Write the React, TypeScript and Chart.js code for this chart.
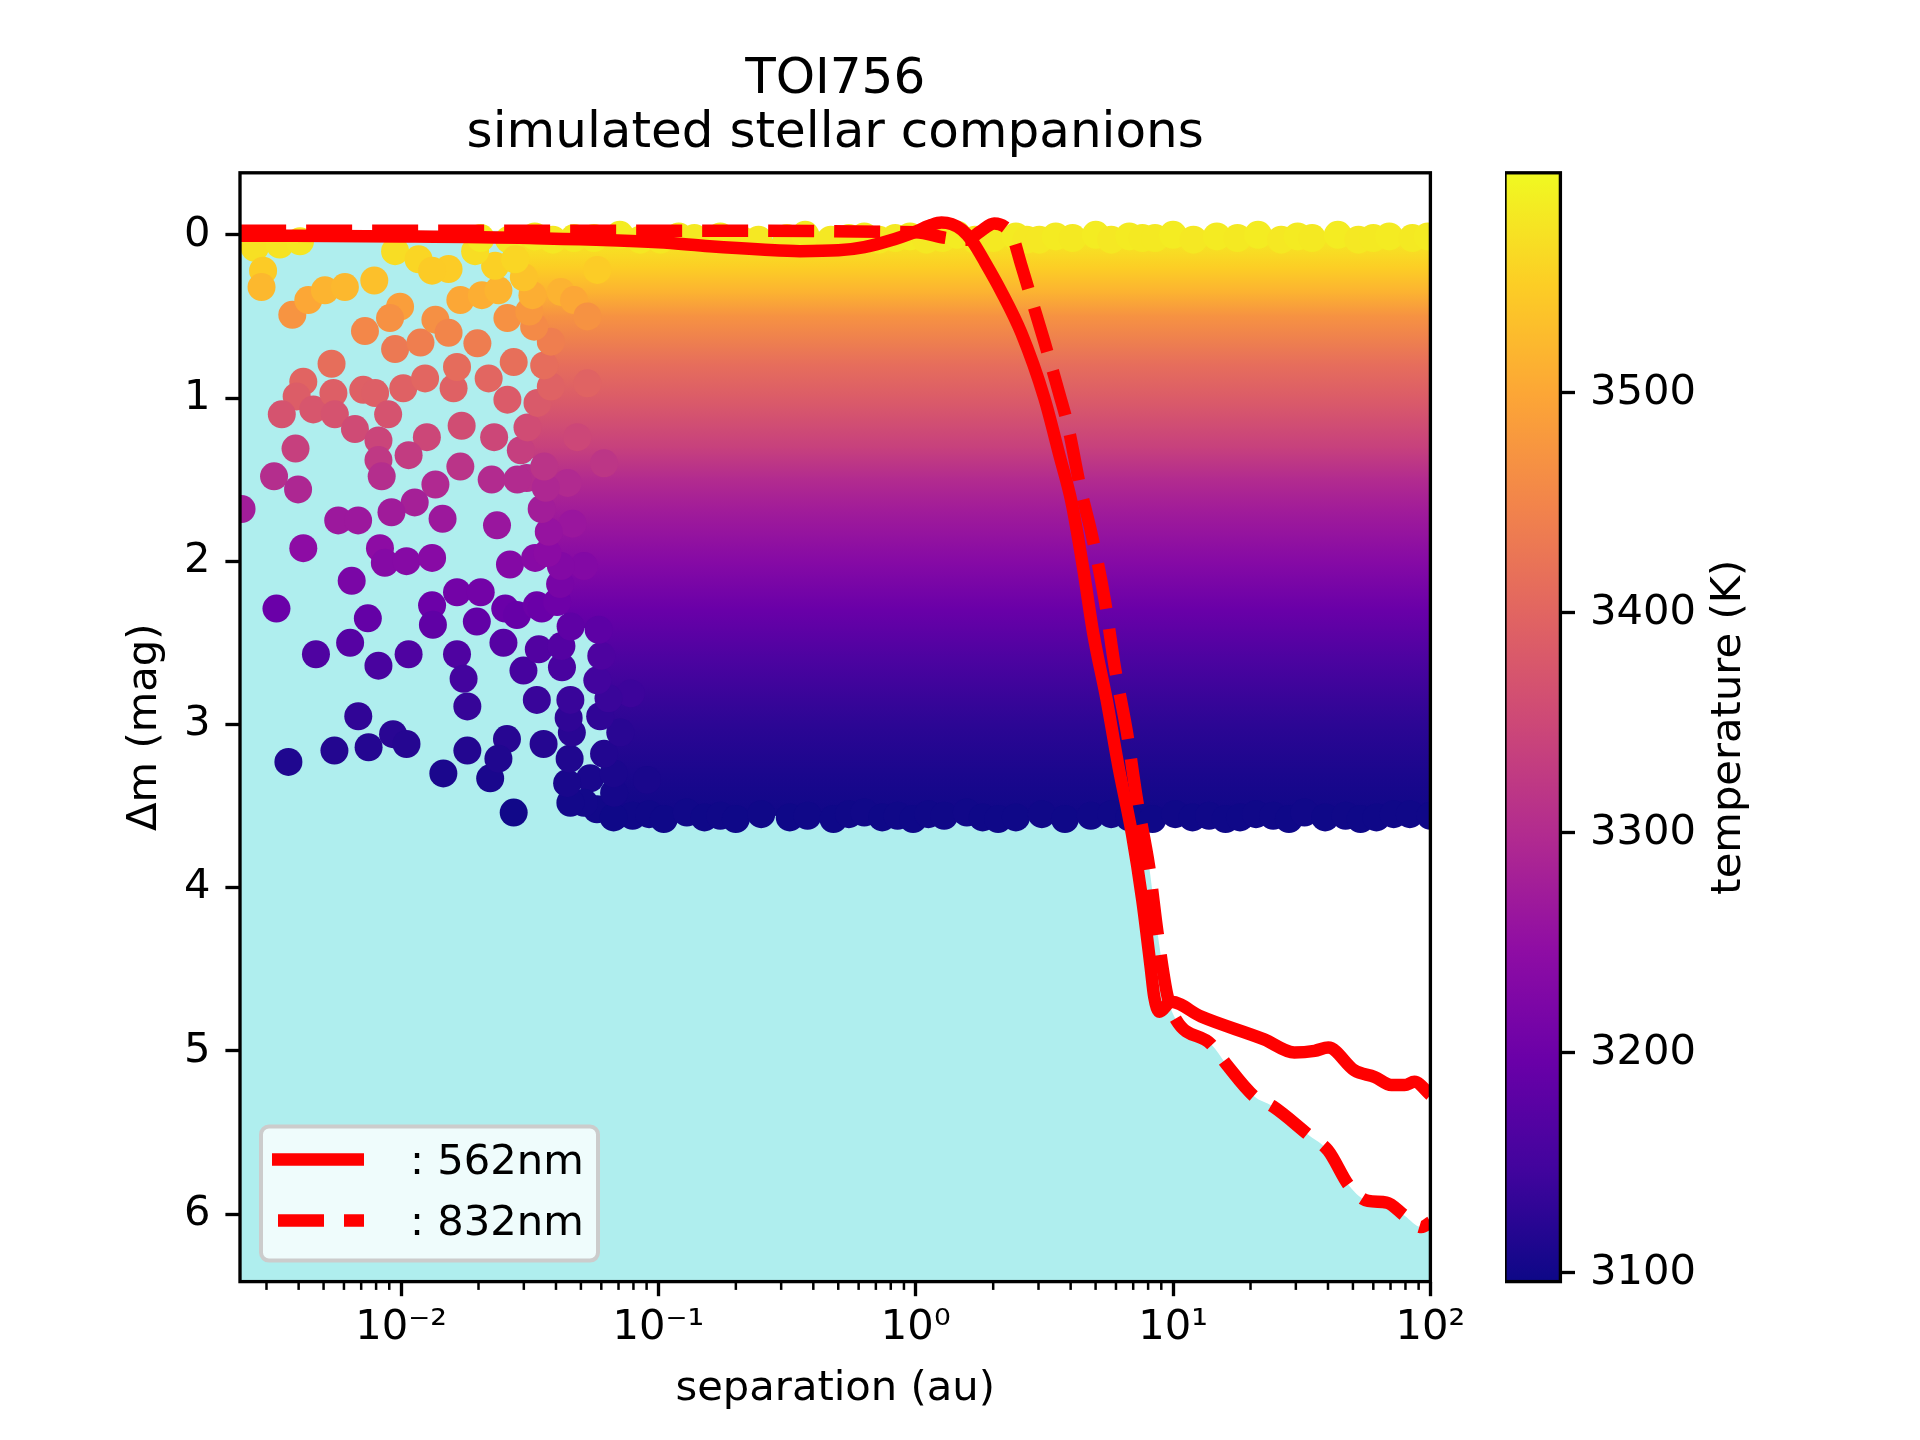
import React, { useEffect, useRef } from 'react';
import { Chart, registerables } from 'chart.js';

Chart.register(...registerables);

Chart.defaults.font.family = "'DejaVu Sans', sans-serif";
Chart.defaults.color = '#000';

const FONT = 41.67; // 10pt at 300 dpi
const LW = 3.33; // 0.8pt spines / ticks

// axis ranges
const sepMin = 0.002367;
const sepMax = 100;
const dmMin = -0.38;
const dmMax = 6.414;
const tempMin = 3096;
const tempMax = 3600;

const sepTicks = [0.01, 0.1, 1, 10, 100];
const sepTickLabels = ['10⁻²', '10⁻¹', '10⁰', '10¹', '10²'];
const dmTicks = [0, 1, 2, 3, 4, 5, 6];
const tempTicks = [3100, 3200, 3300, 3400, 3500];

// contrast curve, 562nm
const curve562Sep = [0.00237, 0.01, 0.0316, 0.1, 0.158, 0.251, 0.355, 0.501, 0.631, 0.794, 1.0, 1.148, 1.259, 1.38, 1.514, 1.66, 1.862, 2.138, 2.57, 3.16, 3.63, 4.02, 4.47, 4.9, 5.52, 6.14, 6.92, 7.59, 8.18, 8.45, 8.85, 9.82, 12.85, 22.6, 29.6, 35.5, 40.1, 50.7, 60.7, 70.5, 79.4, 86.7, 100];
const curve562Dm = [0.005, 0.01, 0.02, 0.045, 0.07, 0.09, 0.1, 0.095, 0.075, 0.035, -0.02, -0.06, -0.075, -0.065, -0.03, 0.04, 0.17, 0.34, 0.6, 1.0, 1.36, 1.63, 2.04, 2.445, 2.85, 3.26, 3.67, 4.075, 4.485, 4.67, 4.76, 4.7, 4.79, 4.93, 5.01, 5.0, 4.98, 5.12, 5.16, 5.21, 5.21, 5.19, 5.27];

// contrast curve, 832nm
const curve832Sep = [0.00237, 0.1, 1.0, 1.318, 1.585, 1.778, 2.018, 2.213, 2.377, 2.565, 2.8, 3.155, 3.614, 3.89, 4.385, 4.82, 5.43, 5.94, 6.62, 7.24, 8.07, 8.71, 9.53, 10.28, 14.06, 16.07, 20.7, 24.4, 33.9, 40.0, 48.5, 57.3, 67.6, 79.4, 92.3, 100];
const curve832Dm = [-0.025, -0.025, -0.015, 0.02, 0.03, -0.02, -0.07, -0.05, 0.01, 0.18, 0.38, 0.65, 0.975, 1.16, 1.565, 1.83, 2.24, 2.65, 3.05, 3.46, 3.87, 4.28, 4.67, 4.81, 4.96, 5.08, 5.28, 5.34, 5.52, 5.61, 5.83, 5.92, 5.93, 6.01, 6.08, 6.05];

// simulated companions that stand out on their own
const companionSep = [
  0.0027, 0.00338, 0.00405, 0.00291, 0.00287, 0.00378, 0.00436, 0.00506, 0.00605, 0.00787,
  0.00948, 0.0117, 0.0153, 0.0132, 0.00991, 0.00906, 0.00724, 0.00948, 0.0119, 0.0136,
  0.017, 0.0153, 0.0206, 0.0239, 0.0232, 0.0278, 0.0194, 0.00537, 0.00417, 0.00393,
  0.00344, 0.00456, 0.00546, 0.00553, 0.00713, 0.00793, 0.00891, 0.0102, 0.0124, 0.016,
  0.0165, 0.0219, 0.0274, 0.00662, 0.00817, 0.0126, 0.0172, 0.00389, 0.00321, 0.00398,
  0.0024, 0.00817, 0.00841, 0.0107, 0.0136, 0.0113, 0.00918, 0.0057, 0.00681, 0.00417,
  0.00828, 0.00865, 0.0105, 0.0132, 0.0145, 0.0236, 0.017, 0.0225, 0.00643, 0.00328,
  0.00743, 0.0132, 0.0133, 0.0165, 0.0204, 0.0197, 0.00634, 0.00467, 0.00817, 0.0107,
  0.0165, 0.0175, 0.0181, 0.00682, 0.00365, 0.00551, 0.00748, 0.00931, 0.0105, 0.0146,
  0.0181, 0.0222, 0.0258, 0.0274, 0.0358, 0.0299, 0.0337, 0.0254, 0.0282, 0.0265,
  0.0308, 0.0337, 0.025, 0.0332, 0.0352, 0.0343, 0.0239, 0.0543, 0.0577, 0.0903,
  0.0418, 0.047, 0.0579, 0.0198, 0.0259, 0.053, 0.0259, 0.053, 0.023, 0.0484,
  0.0283, 0.0444, 0.0615, 0.0464, 0.0514, 0.0514, 0.0781, 0.0455, 0.0442, 0.0452,
  0.0461, 0.0448, 0.0455, 0.0422, 0.042,
];
const companionDm = [
  0.08, 0.06, 0.04, 0.22, 0.32, 0.49, 0.4, 0.34, 0.32, 0.28,
  0.1, 0.15, 0.21, 0.22, 0.44, 0.51, 0.59, 0.7, 0.66, 0.52,
  0.4, 0.6, 0.37, 0.34, 0.19, 0.15, 0.1, 0.79, 0.9, 0.99,
  1.1, 1.07, 0.97, 1.1, 0.95, 0.97, 1.1, 0.94, 0.88, 0.94,
  0.81, 0.88, 0.78, 1.19, 1.26, 1.24, 1.17, 1.31, 1.48, 1.56,
  1.68, 1.38, 1.48, 1.35, 1.53, 1.64, 1.7, 1.75, 1.75, 1.92,
  1.92, 2.01, 2.0, 1.98, 1.74, 1.78, 1.42, 1.5, 2.12, 2.29,
  2.35, 2.27, 2.39, 2.19, 2.19, 2.37, 2.5, 2.57, 2.64, 2.57,
  2.57, 2.72, 2.89, 2.95, 3.23, 3.16, 3.14, 3.06, 3.12, 3.3,
  3.16, 3.33, 3.09, 3.54, 3.12, 2.67, 2.85, 2.29, 2.33, 2.02,
  1.49, 2.27, 2.5, 1.98, 2.29, 2.54, 3.21, 3.33, 3.52, 3.34,
  0.35, 0.4, 0.215, 0.665, 0.51, 0.5, 1.01, 0.91, 1.24, 1.24,
  1.5, 1.52, 1.4, 1.77, 2.03, 3.48, 2.81, 3.48, 3.36, 3.21,
  3.05, 2.96, 2.85, 2.65, 2.52,
];

// top row, bottom row and left edge of the crowded part of the cloud
const topRowSep = [0.0204, 0.0263, 0.0331, 0.0389, 0.047, 0.0562, 0.0708, 0.085, 0.102, 0.12, 0.138, 0.174, 0.21, 0.245, 0.316, 0.372, 0.468, 0.55, 0.631, 0.72, 0.832, 0.95, 1.1, 1.27, 1.45, 1.7, 2.0, 2.45, 2.7, 3.02, 3.5, 4.07, 5.01, 5.75, 6.76, 7.6, 8.51, 10.0, 12.0, 14.8, 17.8, 21.4, 26.3, 30.5, 34.7, 43.7, 52.5, 60.0, 69.2, 85.1, 97.7];
const topRowDm = [
  0.02, 0.03, 0.01, 0.03, 0.02, 0.02, 0.0, 0.03, 0.03, 0.01,
  0.02, 0.01, 0.03, 0.03, 0.02, 0.0, 0.03, 0.02, 0.01, 0.03,
  0.02, 0.01, 0.03, 0.02, 0.0, 0.03, 0.02, 0.01, 0.03, 0.03,
  0.01, 0.02, 0.0, 0.03, 0.01, 0.02, 0.02, 0.0, 0.03, 0.01,
  0.02, 0.0, 0.03, 0.01, 0.02, 0.0, 0.03, 0.02, 0.01, 0.02,
  0.01,
];
const bottomRowSep = [0.0794, 0.092, 0.105, 0.129, 0.151, 0.174, 0.2, 0.251, 0.324, 0.38, 0.479, 0.55, 0.631, 0.741, 0.85, 0.977, 1.12, 1.29, 1.58, 1.82, 2.09, 2.45, 3.09, 3.8, 4.79, 5.75, 6.76, 8.32, 10.2, 11.9, 13.8, 16.0, 18.2, 21.0, 24.5, 28.2, 32.4, 39.0, 46.8, 53.5, 61.7, 72.0, 83.2, 100];
const bottomRowDm = [
  3.56, 3.55, 3.58, 3.54, 3.57, 3.56, 3.58, 3.55, 3.57, 3.56,
  3.58, 3.55, 3.54, 3.57, 3.56, 3.58, 3.55, 3.56, 3.54, 3.57,
  3.58, 3.57, 3.55, 3.58, 3.56, 3.55, 3.57, 3.58, 3.55, 3.57,
  3.56, 3.58, 3.57, 3.55, 3.56, 3.58, 3.54, 3.57, 3.56, 3.58,
  3.57, 3.55, 3.55, 3.56,
];
// left edge, listed from the bottom up
const edgeSep = [0.067, 0.0673, 0.067, 0.0615, 0.0711, 0.0594, 0.064, 0.0579, 0.06, 0.0586, 0.0456, 0.0404, 0.0415, 0.0418, 0.0371, 0.0375, 0.0352, 0.0365, 0.036, 0.0292, 0.031, 0.0339, 0.0382, 0.036, 0.0382, 0.0329, 0.0315, 0.0324, 0.03, 0.0278];
const edgeDm = [3.57, 3.42, 3.3, 3.18, 3.05, 2.95, 2.84, 2.73, 2.58, 2.42, 2.4, 2.25, 2.14, 2.03, 1.95, 1.82, 1.68, 1.55, 1.42, 1.32, 1.18, 1.03, 0.93, 0.8, 0.655, 0.563, 0.47, 0.37, 0.26, 0.15];

// companion temperature against Δm
const tempDm = [0, 0.2, 0.35, 0.5, 0.8, 1.0, 1.3, 1.5, 1.7, 2.0, 2.3, 2.6, 3.0, 3.3, 3.6];
const tempK = [3585, 3550, 3515, 3470, 3412, 3385, 3338, 3300, 3272, 3235, 3195, 3160, 3126, 3110, 3097];

// plasma colormap
const plasmaStops = ['#0d0887', '#41049d', '#6a00a8', '#8f0da4', '#b12a90', '#cc4778', '#e16462', '#f2844b', '#fca636', '#fcce25', '#f0f921'];

const hexRgb = (h: string) => [1, 3, 5].map((i) => parseInt(h.slice(i, i + 2), 16));

function plasma(t: number) {
  const c = Math.min(1, Math.max(0, t)) * (plasmaStops.length - 1);
  const i = Math.min(plasmaStops.length - 2, Math.floor(c));
  const f = c - i;
  const a = hexRgb(plasmaStops[i]);
  const b = hexRgb(plasmaStops[i + 1]);
  const rgb = a.map((v, k) => Math.round(v + (b[k] - v) * f));
  return `rgb(${rgb[0]},${rgb[1]},${rgb[2]})`;
}

function tempForDm(dm: number) {
  if (dm <= tempDm[0]) return tempK[0];
  for (let i = 1; i < tempDm.length; i++) {
    if (dm <= tempDm[i]) {
      const f = (dm - tempDm[i - 1]) / (tempDm[i] - tempDm[i - 1]);
      return tempK[i - 1] + (tempK[i] - tempK[i - 1]) * f;
    }
  }
  return tempK[tempK.length - 1];
}

const colorForDm = (dm: number) => plasma((tempForDm(dm) - tempMin) / (tempMax - tempMin));

const zip = (xs: number[], ys: number[]) => xs.map((x, i) => ({ x, y: ys[i] }));

function roundRectPath(ctx: CanvasRenderingContext2D, x: number, y: number, w: number, h: number, r: number) {
  ctx.beginPath();
  ctx.moveTo(x + r, y);
  ctx.arcTo(x + w, y, x + w, y + h, r);
  ctx.arcTo(x + w, y + h, x, y + h, r);
  ctx.arcTo(x, y + h, x, y, r);
  ctx.arcTo(x, y, x + w, y, r);
  ctx.closePath();
}

// axes frame + minor log ticks
const framePlugin = {
  id: 'frame',
  afterDatasetsDraw(chart: any) {
    const { ctx, chartArea } = chart;
    ctx.save();
    ctx.strokeStyle = '#000';
    ctx.lineWidth = LW;
    ctx.strokeRect(chartArea.left, chartArea.top, chartArea.right - chartArea.left, chartArea.bottom - chartArea.top);
    const x = chart.scales.x;
    if (x && x.type === 'logarithmic') {
      ctx.lineWidth = 2.5;
      for (let k = -3; k <= 1; k++) {
        for (let m = 2; m <= 9; m++) {
          const v = m * Math.pow(10, k);
          if (v < x.min || v > x.max) continue;
          const px = x.getPixelForValue(v);
          ctx.beginPath();
          ctx.moveTo(px, chartArea.bottom);
          ctx.lineTo(px, chartArea.bottom + 8.3);
          ctx.stroke();
        }
      }
    }
    ctx.restore();
  },
};

const legendPlugin = {
  id: 'boxLegend',
  afterDraw(chart: any) {
    const { ctx, chartArea } = chart;
    const w = 337;
    const h = 134;
    const left = chartArea.left + 21;
    const top = chartArea.bottom - 21 - h;
    ctx.save();
    roundRectPath(ctx, left, top, w, h, 8);
    ctx.fillStyle = 'rgba(255,255,255,0.8)';
    ctx.fill();
    ctx.lineWidth = 4;
    ctx.strokeStyle = '#cccccc';
    ctx.stroke();
    [0, 1].forEach((idx, row) => {
      const ds = chart.data.datasets[idx];
      const yy = top + 33 + row * 61;
      ctx.beginPath();
      ctx.setLineDash(ds.borderDash || []);
      ctx.lineDashOffset = ds.borderDash ? -6 : 0;
      ctx.lineCap = 'butt';
      ctx.lineWidth = ds.borderWidth;
      ctx.strokeStyle = ds.borderColor;
      ctx.moveTo(left + 11, yy);
      ctx.lineTo(left + 103, yy);
      ctx.stroke();
      ctx.setLineDash([]);
      ctx.fillStyle = '#000';
      ctx.font = `${FONT}px 'DejaVu Sans'`;
      ctx.textBaseline = 'alphabetic';
      ctx.textAlign = 'left';
      ctx.fillText(': ' + ds.label, left + 149, top + 47 + row * 61);
    });
    ctx.restore();
  },
};

const colorbarLabelPlugin = {
  id: 'cbLabel',
  afterDraw(chart: any) {
    const { ctx, chartArea } = chart;
    ctx.save();
    ctx.translate(chartArea.right + 169, (chartArea.top + chartArea.bottom) / 2);
    ctx.rotate(-Math.PI / 2);
    ctx.font = `${FONT}px 'DejaVu Sans'`;
    ctx.fillStyle = '#000';
    ctx.textAlign = 'center';
    ctx.textBaseline = 'middle';
    ctx.fillText('temperature (K)', 0, 0);
    ctx.restore();
  },
};

const tickGrid = {
  display: true,
  drawOnChartArea: false,
  drawTicks: true,
  tickLength: 14.6,
  tickWidth: LW,
  tickColor: '#000',
};

const App: React.FC = () => {
  const mainRef = useRef<HTMLCanvasElement | null>(null);
  const barRef = useRef<HTMLCanvasElement | null>(null);

  useEffect(() => {
    if (!mainRef.current || !barRef.current) return;

    const pointSep = [...companionSep, ...topRowSep, ...bottomRowSep, ...edgeSep];
    const pointDm = [...companionDm, ...topRowDm, ...bottomRowDm, ...edgeDm];

    // crowded region: its outline runs through the centres of the rim markers
    const cloudOutline = [
      ...zip(topRowSep, topRowDm).slice(1),
      { x: sepMax, y: topRowDm[topRowDm.length - 1] },
      { x: sepMax, y: bottomRowDm[bottomRowDm.length - 1] },
      ...zip(bottomRowSep, bottomRowDm).reverse(),
      ...zip(edgeSep, edgeDm),
    ];

    const cloudFill = (c: any) => {
      const chart = c.chart;
      const y = chart.scales.y;
      if (!chart.chartArea || !y) return 'rgba(0,0,0,0)';
      const d0 = tempDm[0];
      const d1 = tempDm[tempDm.length - 1];
      const g = chart.ctx.createLinearGradient(0, y.getPixelForValue(d0), 0, y.getPixelForValue(d1));
      tempDm.forEach((d, i) => g.addColorStop((d - d0) / (d1 - d0), plasma((tempK[i] - tempMin) / (tempMax - tempMin))));
      return g;
    };

    const main = new Chart(mainRef.current, {
      type: 'line',
      data: {
        datasets: [
          {
            label: '562nm',
            data: zip(curve562Sep, curve562Dm),
            borderColor: '#ff0000',
            borderWidth: 12.5,
            borderJoinStyle: 'round',
            cubicInterpolationMode: 'monotone',
            pointRadius: 0,
            fill: false,
            clip: 0,
          },
          {
            label: '832nm',
            data: zip(curve832Sep, curve832Dm),
            borderColor: '#ff0000',
            borderWidth: 12.5,
            borderDash: [46, 20],
            borderJoinStyle: 'round',
            cubicInterpolationMode: 'monotone',
            pointRadius: 0,
            fill: false,
            clip: 0,
          },
          {
            label: 'companions',
            data: zip(pointSep, pointDm),
            showLine: false,
            pointRadius: 14,
            pointHoverRadius: 14,
            pointBorderWidth: 0,
            pointBackgroundColor: pointDm.map(colorForDm),
            clip: 0,
          },
          {
            label: 'cloud',
            data: cloudOutline,
            borderWidth: 0,
            borderColor: 'rgba(0,0,0,0)',
            pointRadius: 0,
            tension: 0,
            fill: 'shape',
            backgroundColor: cloudFill,
            clip: 0,
          },
          {
            label: 'undetectable',
            data: zip(curve832Sep, curve832Dm),
            borderWidth: 0,
            borderColor: 'rgba(0,0,0,0)',
            cubicInterpolationMode: 'monotone',
            pointRadius: 0,
            fill: { value: dmMax },
            backgroundColor: '#afeeee',
            clip: 0,
          },
        ],
      },
      options: {
        responsive: true,
        maintainAspectRatio: false,
        animation: false,
        events: [],
        layout: { padding: { left: 0, right: 49.6, top: 0, bottom: 0 } },
        plugins: {
          legend: { display: false },
          tooltip: { enabled: false },
          title: {
            display: true,
            text: ['TOI756', 'simulated stellar companions'],
            fullSize: false,
            color: '#000',
            font: { size: 50, weight: 'normal', lineHeight: 1.08 },
            padding: { top: 53, bottom: 11.8 },
          },
        },
        scales: {
          x: {
            type: 'logarithmic',
            min: sepMin,
            max: sepMax,
            afterBuildTicks: (s: any) => {
              s.ticks = sepTicks.map((v) => ({ value: v }));
            },
            afterFit: (s: any) => {
              s.height = 158.4;
            },
            ticks: {
              autoSkip: false,
              maxRotation: 0,
              minRotation: 0,
              padding: 7,
              color: '#000',
              font: { size: FONT },
              callback: (_v: any, i: number) => sepTickLabels[i] ?? '',
            },
            grid: tickGrid,
            border: { display: false },
            title: {
              display: true,
              text: 'separation (au)',
              color: '#000',
              font: { size: FONT },
              padding: { top: 0, bottom: 26 },
            },
          },
          y: {
            type: 'linear',
            reverse: true,
            min: dmMin,
            max: dmMax,
            afterBuildTicks: (s: any) => {
              s.ticks = dmTicks.map((v) => ({ value: v }));
            },
            afterFit: (s: any) => {
              s.width = 240;
            },
            ticks: {
              padding: 15,
              color: '#000',
              font: { size: FONT },
              callback: (v: any) => String(v),
            },
            grid: tickGrid,
            border: { display: false },
            title: {
              display: true,
              text: 'Δm (mag)',
              color: '#000',
              font: { size: FONT },
              padding: { top: 120, bottom: 0 },
            },
          },
        },
      },
      plugins: [framePlugin, legendPlugin],
    } as any);

    const barFill = (c: any) => {
      const chart = c.chart;
      const y = chart.scales.y;
      if (!chart.chartArea || !y) return plasmaStops[5];
      const g = chart.ctx.createLinearGradient(0, y.getPixelForValue(tempMin), 0, y.getPixelForValue(tempMax));
      plasmaStops.forEach((col, i) => g.addColorStop(i / (plasmaStops.length - 1), col));
      return g;
    };

    const bar = new Chart(barRef.current, {
      type: 'bar',
      data: {
        labels: [''],
        datasets: [
          {
            data: [[tempMin, tempMax]],
            backgroundColor: barFill,
            borderWidth: 0,
            barPercentage: 1,
            categoryPercentage: 1,
          },
        ],
      },
      options: {
        responsive: true,
        maintainAspectRatio: false,
        animation: false,
        events: [],
        layout: { padding: { left: 0, right: 0, top: 172.8, bottom: 158.4 } },
        plugins: {
          legend: { display: false },
          tooltip: { enabled: false },
          title: { display: false },
        },
        scales: {
          x: { display: false },
          y: {
            position: 'right',
            min: tempMin,
            max: tempMax,
            afterBuildTicks: (s: any) => {
              s.ticks = tempTicks.map((v) => ({ value: v }));
            },
            afterFit: (s: any) => {
              s.width = 415.2 - 55.4;
            },
            ticks: {
              padding: 15,
              color: '#000',
              font: { size: FONT },
              callback: (v: any) => String(v),
            },
            grid: tickGrid,
            border: { display: false },
          },
        },
      },
      plugins: [framePlugin, colorbarLabelPlugin],
    } as any);

    return () => {
      main.destroy();
      bar.destroy();
    };
  }, []);

  return (
    <div style={{ position: 'fixed', left: 0, top: 0, width: 1920, height: 1440, background: '#fff' }}>
      <div style={{ position: 'absolute', left: 0, top: 0, width: 1480, height: 1440 }}>
        <canvas ref={mainRef} />
      </div>
      <div style={{ position: 'absolute', left: 1504.8, top: 0, width: 415.2, height: 1440 }}>
        <canvas ref={barRef} />
      </div>
    </div>
  );
};

export default App;
